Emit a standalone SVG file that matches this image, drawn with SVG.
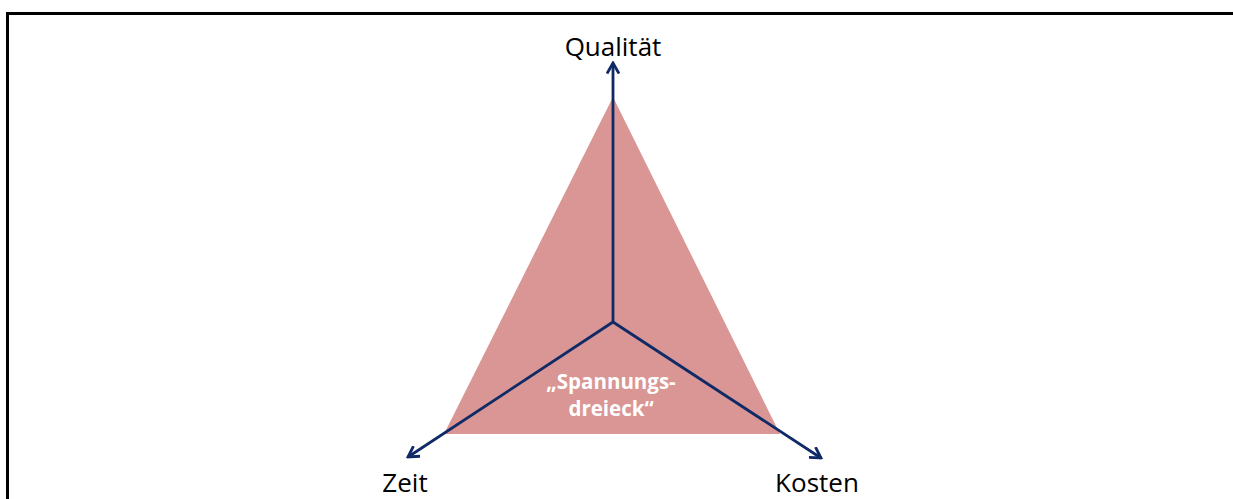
<svg xmlns="http://www.w3.org/2000/svg" width="1233" height="499" viewBox="0 0 1233 499">
<style>
.axis{stroke:#0f2a66;stroke-width:2.8;fill:none}
.lbl{font-family:"Open Sans","Liberation Sans",sans-serif;font-size:26px;fill:#000;text-anchor:middle}
.inner{font-family:"Open Sans","Liberation Sans",sans-serif;font-size:20.5px;font-weight:bold;fill:#fff;text-anchor:middle}
</style>
<defs>
<marker id="arr" viewBox="0 0 14 14" refX="12" refY="7" markerWidth="14" markerHeight="14" markerUnits="userSpaceOnUse" orient="auto">
<polyline points="1.5,1 12,7 1.5,13" fill="none" stroke="#0f2a66" stroke-width="2.8"/>
</marker>
</defs>
<rect width="1233" height="499" fill="#fff"/>
<g id="frame"><polyline points="7.5,499 7.5,13.5 1233,13.5" fill="none" stroke="#000" stroke-width="3"/></g>
<g id="triangle"><polygon points="613,97 444,434 780,434" fill="#d99694"/></g>
<g id="connectors">
<line class="axis" x1="613" y1="322" x2="613" y2="63" marker-end="url(#arr)"/>
<line class="axis" x1="613" y1="322" x2="408" y2="457" marker-end="url(#arr)"/>
<line class="axis" x1="613" y1="322" x2="821" y2="458" marker-end="url(#arr)"/>
</g>
<g id="qualitaet"><text class="lbl" x="613" y="56">Qualität</text></g>
<g id="zeit"><text class="lbl" x="405" y="492">Zeit</text></g>
<g id="kosten"><text class="lbl" x="817" y="492">Kosten</text></g>
<g id="label"><text class="inner" x="611" y="389">„Spannungs-</text><text class="inner" x="611" y="416">dreieck“</text></g>
</svg>
